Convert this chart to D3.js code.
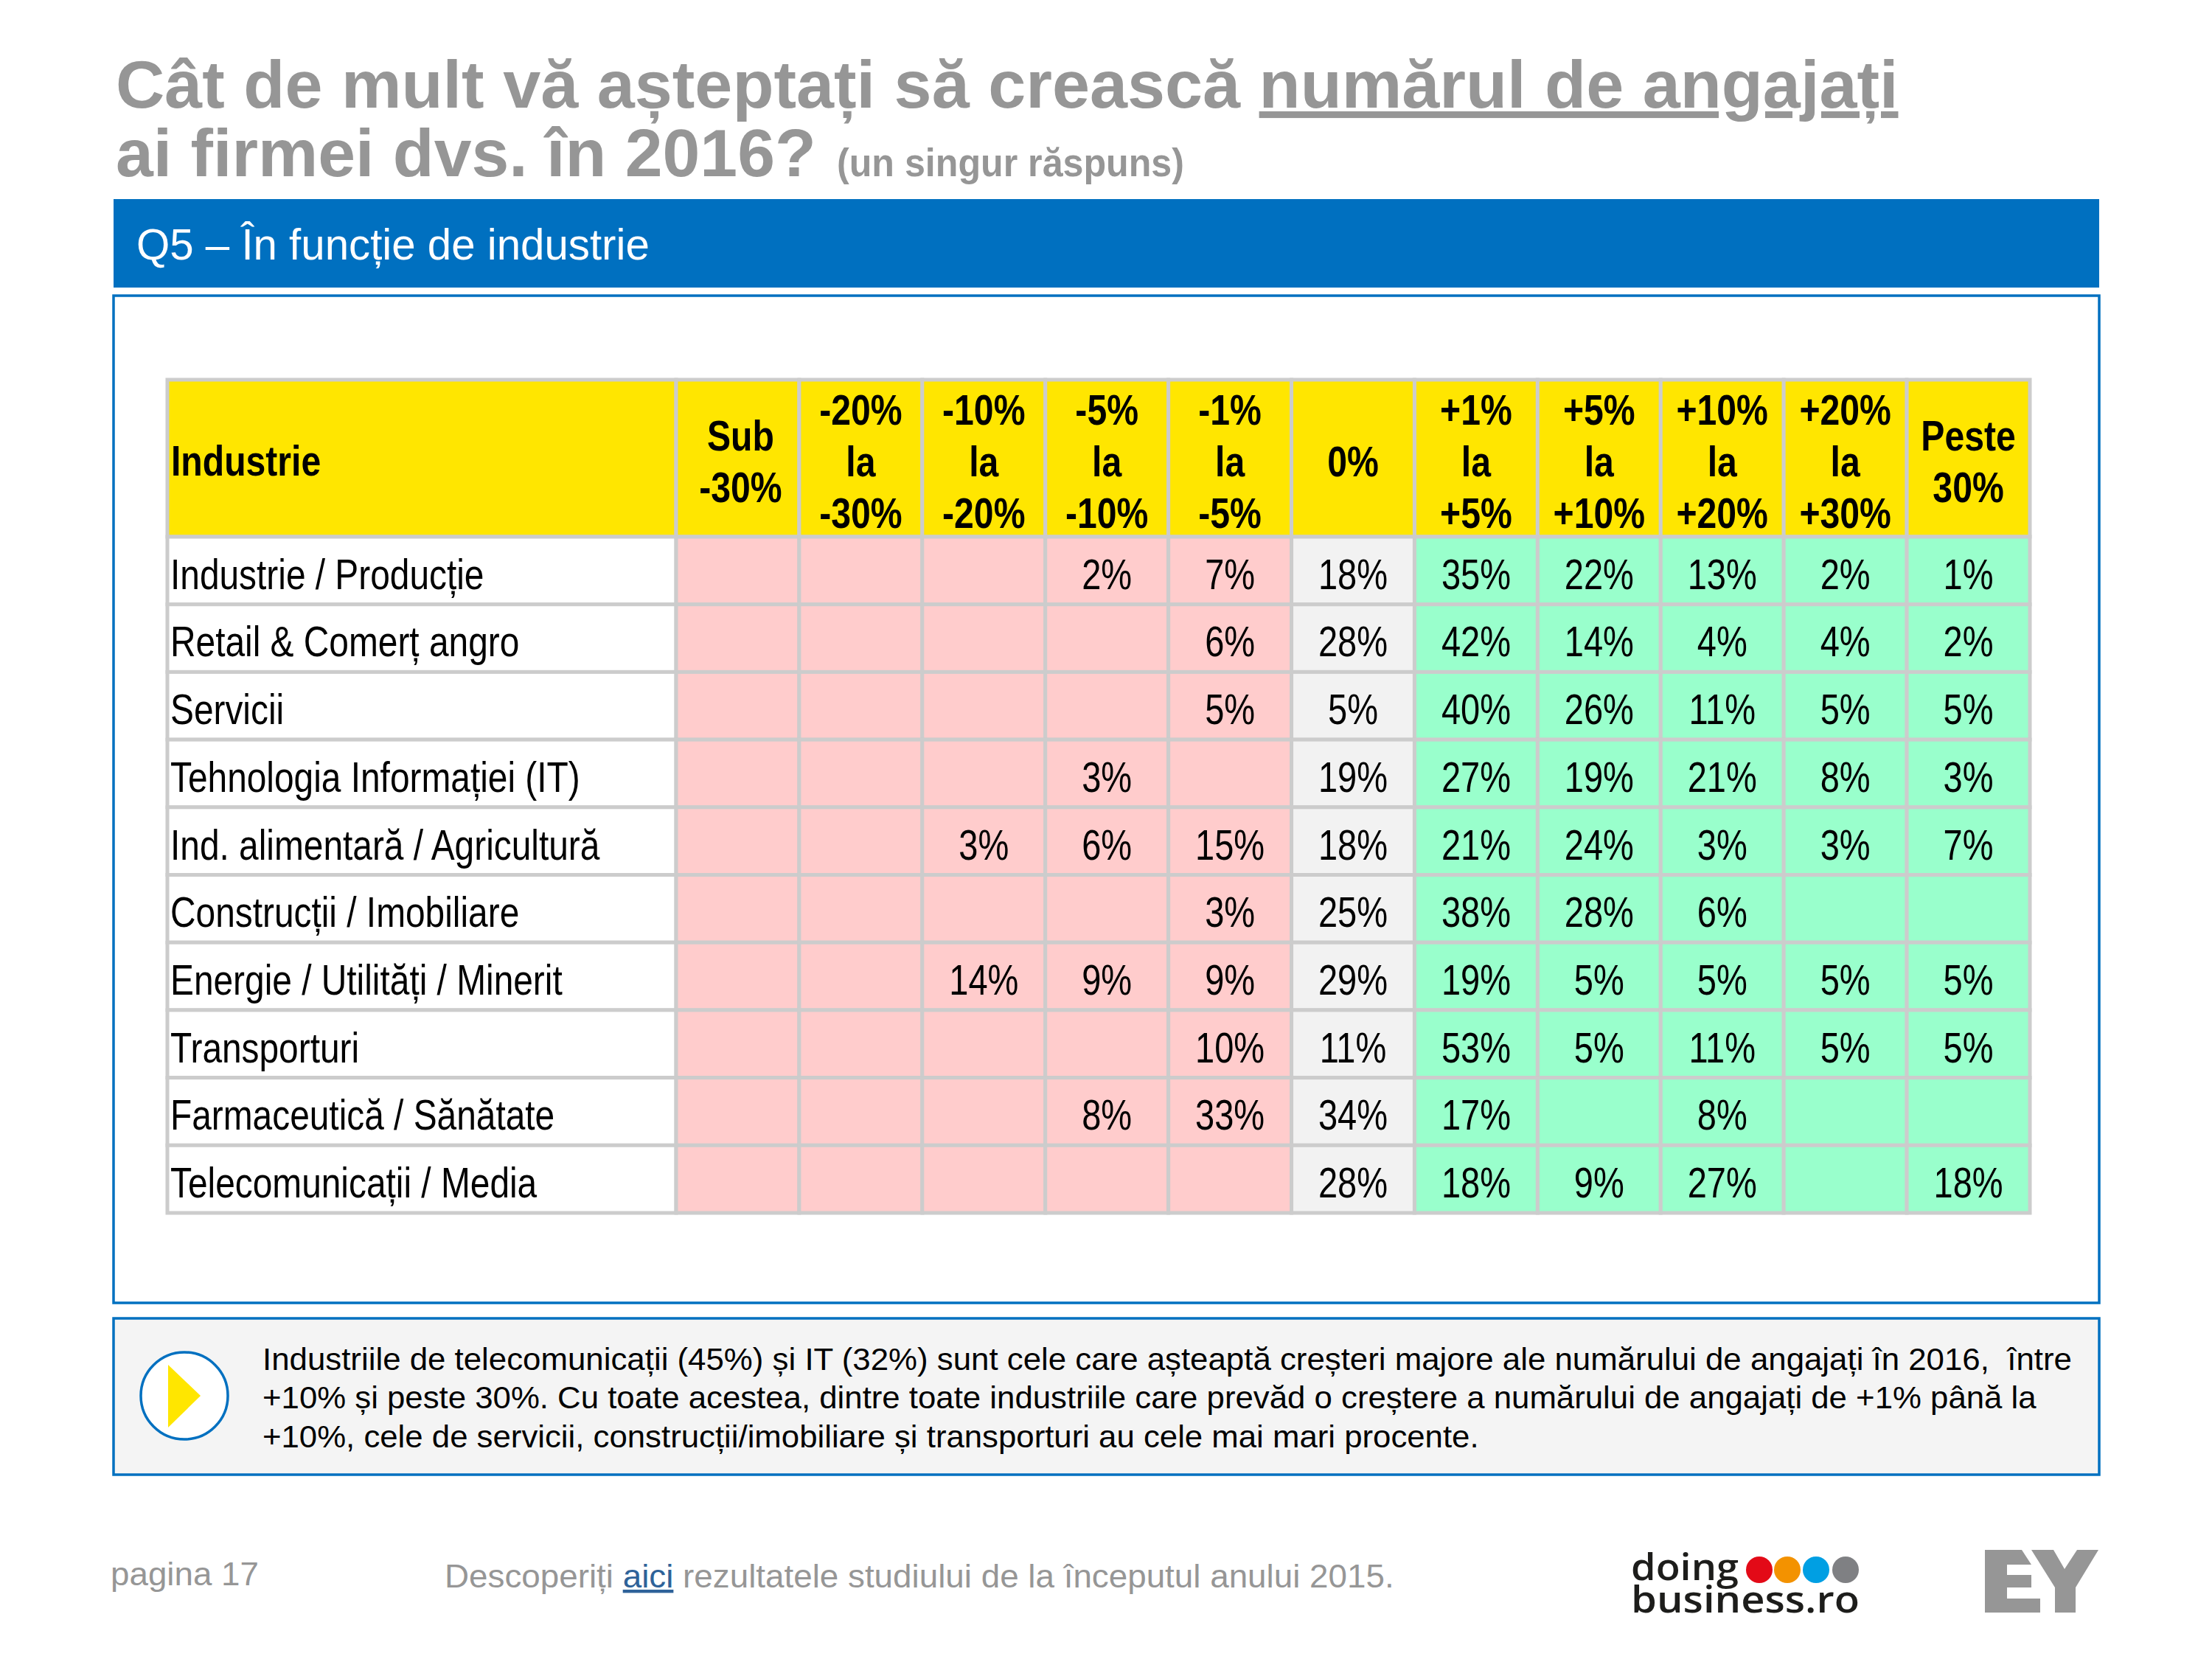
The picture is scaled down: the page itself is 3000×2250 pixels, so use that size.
<!DOCTYPE html>
<html lang="ro"><head><meta charset="utf-8">
<script src="https://cdnjs.cloudflare.com/ajax/libs/d3/7.8.5/d3.min.js"></script>
<style>html,body{margin:0;padding:0;background:#fff}svg{display:block}text{font-family:"Liberation Sans",Arial,sans-serif;white-space:pre}</style>
</head><body><svg id="c" width="3000" height="2250" viewBox="0 0 3000 2250"></svg>
<script>
const columnHeaders=[["Sub","-30%"],["-20%","la","-30%"],["-10%","la","-20%"],["-5%","la","-10%"],["-1%","la","-5%"],["0%"],["+1%","la","+5%"],["+5%","la","+10%"],["+10%","la","+20%"],["+20%","la","+30%"],["Peste","30%"]];
const columnKeys=["sub30","m30m20","m20m10","m10m5","m5m1","zero","p1p5","p5p10","p10p20","p20p30","peste30"];
const industries=["Industrie / Producție","Retail & Comerț angro","Servicii","Tehnologia Informației (IT)","Ind. alimentară / Agricultură","Construcții / Imobiliare","Energie / Utilități / Minerit","Transporturi","Farmaceutică / Sănătate","Telecomunicații / Media"];
const valuesIndustrie=[null,null,null,2,7,18,35,22,13,2,1];
const valuesRetail=[null,null,null,null,6,28,42,14,4,4,2];
const valuesServicii=[null,null,null,null,5,5,40,26,11,5,5];
const valuesIT=[null,null,null,3,null,19,27,19,21,8,3];
const valuesAlimentara=[null,null,3,6,15,18,21,24,3,3,7];
const valuesConstructii=[null,null,null,null,3,25,38,28,6,null,null];
const valuesEnergie=[null,null,14,9,9,29,19,5,5,5,5];
const valuesTransporturi=[null,null,null,null,10,11,53,5,11,5,5];
const valuesFarma=[null,null,null,8,33,34,17,null,8,null,null];
const valuesTelecom=[null,null,null,null,null,28,18,9,27,null,18];
const tableValues=[valuesIndustrie,valuesRetail,valuesServicii,valuesIT,valuesAlimentara,valuesConstructii,valuesEnergie,valuesTransporturi,valuesFarma,valuesTelecom];
const calloutLines=["Industriile de telecomunicații (45%) și IT (32%) sunt cele care așteaptă creșteri majore ale numărului de angajați în 2016,  între","+10% și peste 30%. Cu toate acestea, dintre toate industriile care prevăd o creștere a numărului de angajați de +1% până la","+10%, cele de servicii, construcții/imobiliare și transporturi au cele mai mari procente."];

const GREY="#969696",BLUE="#0070C0",YEL="#FFE600",PINK="#FFCCCC",GREEN="#99FFCC",ZERO="#F2F2F2",LINE="#CCCCCC";
const svg=d3.select("#c");
svg.append("rect").attr("width",3000).attr("height",2250).attr("fill","#fff");

// text helper: the original is horizontally condensed; w fits to a target width, sx sets a fixed squeeze
function T(parent,x,y,str,o={}){
  const t=parent.append("text").attr("font-size",o.size||40).attr("font-weight",o.weight||"normal").attr("fill",o.fill||"#000");
  if(o.family)t.style("font-family",o.family);
  if(Array.isArray(str)) str.forEach(s=>{const ts=t.append("tspan").text(s.t);
      if(s.u)ts.attr("text-decoration","underline"); if(s.fill)ts.attr("fill",s.fill);});
  else t.text(str);
  let sx=o.sx||1;
  const len=t.node().getComputedTextLength();
  if(o.w) sx=o.w/len;
  const a=o.anchor==="middle"?-len*sx/2:0;
  t.attr("transform",`translate(${x+a},${y}) scale(${sx},1)`);
  return t;
}

// title
T(svg,157,146,[{t:"Cât de mult vă așteptați să crească "},{t:"numărul de angajați",u:true}],{size:91,weight:"bold",fill:GREY,w:2418});
T(svg,157,239,"ai firmei dvs. în 2016?",{size:91,weight:"bold",fill:GREY,w:950});
T(svg,1135,239,"(un singur răspuns)",{size:54,weight:"bold",fill:GREY,w:471});

// blue banner
svg.append("rect").attr("x",154).attr("y",270).attr("width",2693).attr("height",120).attr("fill",BLUE);
T(svg,185,352,"Q5 – În funcție de industrie",{size:60,fill:"#fff",w:696});

// frame
svg.append("rect").attr("x",154).attr("y",401).attr("width",2693).attr("height",1366).attr("fill","#fff").attr("stroke",BLUE).attr("stroke-width",3.5);

// table
const firstColLeft=227,firstColRight=917,tableRight=2753,headTop=515,headBottom=728,tableBottom=1645;
const x=d3.scaleBand().domain(columnKeys).range([firstColRight,tableRight]);
const y=d3.scaleBand().domain(industries).range([headBottom,tableBottom]);
const SX=0.825,SXV=0.81,SXB=0.83,FS=58;
const cells=svg.append("g");
cells.append("rect").attr("x",firstColLeft).attr("y",headTop).attr("width",firstColRight-firstColLeft).attr("height",headBottom-headTop).attr("fill",YEL).attr("stroke",LINE).attr("stroke-width",5);
cells.selectAll("rect.h").data(columnKeys).join("rect").attr("class","h")
  .attr("x",d=>x(d)).attr("y",headTop).attr("width",x.bandwidth()).attr("height",headBottom-headTop)
  .attr("fill",YEL).attr("stroke",LINE).attr("stroke-width",5);
industries.forEach((name,i)=>{
  cells.append("rect").attr("x",firstColLeft).attr("y",y(name)).attr("width",firstColRight-firstColLeft).attr("height",y.bandwidth()).attr("fill","#fff").attr("stroke",LINE).attr("stroke-width",5);
  columnKeys.forEach((k,j)=>{
    cells.append("rect").attr("x",x(k)).attr("y",y(name)).attr("width",x.bandwidth()).attr("height",y.bandwidth())
      .attr("fill",j<5?PINK:(j===5?ZERO:GREEN)).attr("stroke",LINE).attr("stroke-width",5);
  });
});
const labels=svg.append("g");
T(labels,232,645,"Industrie",{size:FS,weight:"bold",sx:SXB});
const LH=70;
columnHeaders.forEach((lines,j)=>{
  const cx=x(columnKeys[j])+x.bandwidth()/2+(j===0?4:0);
  const first=645.5-(lines.length-1)*LH/2;
  lines.forEach((s,l)=>T(labels,cx,first+l*LH,s,{size:FS,weight:"bold",sx:SXB,anchor:"middle"}));
});
industries.forEach((name,i)=>{
  const by=y(name)+y.bandwidth()-21;
  T(labels,231,by,name,{size:FS,sx:SX});
  tableValues[i].forEach((v,j)=>{
    if(v===null)return;
    T(labels,x(columnKeys[j])+x.bandwidth()/2,by,v+"%",{size:FS,sx:SXV,anchor:"middle"});
  });
});

// callout
svg.append("rect").attr("x",154).attr("y",1788).attr("width",2693).attr("height",212).attr("fill","#F4F4F4").attr("stroke",BLUE).attr("stroke-width",3.5);
svg.append("circle").attr("cx",250).attr("cy",1893).attr("r",59).attr("fill","#fff").attr("stroke",BLUE).attr("stroke-width",3.5);
svg.append("path").attr("d","M228,1851L272,1893L228,1936Z").attr("fill",YEL);
const calloutW=[2455,2407,1650];
calloutLines.forEach((s,i)=>T(svg,356,1857.5+i*52.5,s,{size:42,w:calloutW[i]}));

// footer
T(svg,150,2150,"pagina 17",{size:44,fill:GREY,w:201});
T(svg,603,2153,[{t:"Descoperiți "},{t:"aici",u:true,fill:"#2E6299"},{t:" rezultatele studiului de la începutul anului 2015."}],{size:44,fill:GREY,w:1288});

// doing business logo
const LOGO='"Open Sans",sans-serif';
T(svg,2212,2143,"doing",{size:51,fill:"#1D1D1B",weight:"600",w:146,family:LOGO});
T(svg,2212,2187,"business.ro",{size:51,fill:"#1D1D1B",weight:"600",w:310,family:LOGO});
const dots=[[2386,"#E30A17"],[2424,"#F39200"],[2463,"#009FE3"],[2503,"#7F8083"]];
svg.selectAll("ellipse.dot").data(dots).join("ellipse").attr("class","dot").attr("cx",d=>d[0]).attr("cy",2129).attr("rx",18).attr("ry",18).attr("fill",d=>d[1]);
// EY logo
svg.append("path").attr("fill",GREY).attr("d","M2692,2102H2742L2755,2122H2722V2136H2755V2153H2722V2168H2767V2187H2692Z");
svg.append("path").attr("fill",GREY).attr("d","M2755,2102H2785L2800,2128L2817,2102H2846L2815,2153V2187H2787V2153Z");
</script></body></html>
